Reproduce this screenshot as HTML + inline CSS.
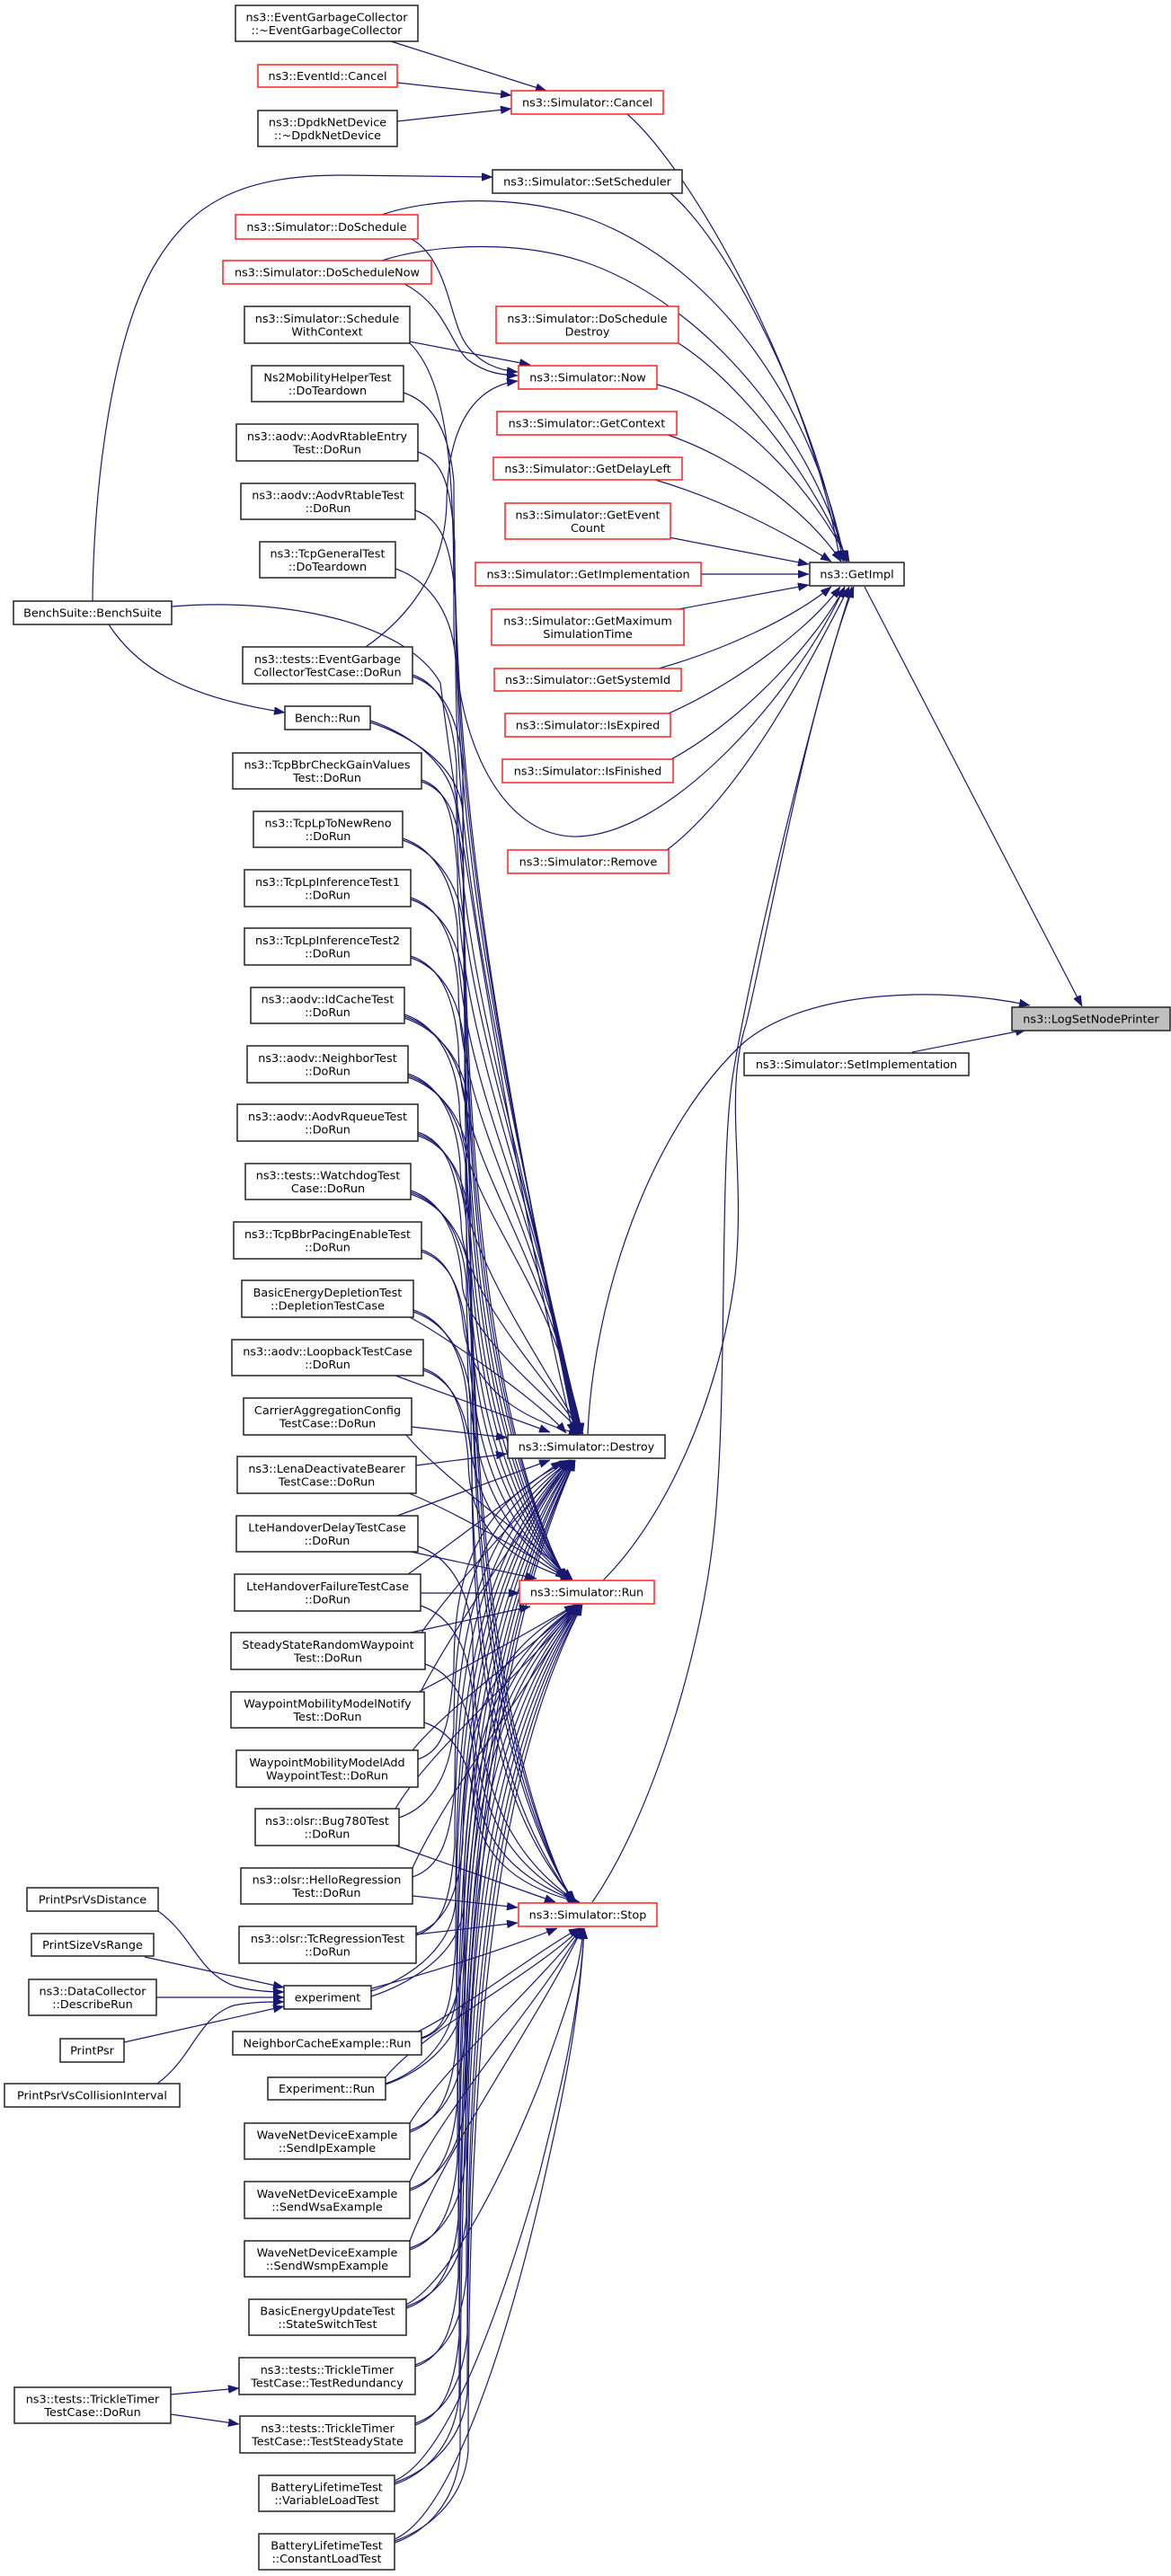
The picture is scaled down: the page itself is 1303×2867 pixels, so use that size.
<!DOCTYPE html>
<html><head><meta charset="utf-8"><style>
html,body{margin:0;padding:0;background:#fff;}
svg{display:block;}
#E path{fill:none;stroke:#191970;stroke-width:1.2;marker-end:url(#a);}
.b rect{fill:#fff;stroke:#222;stroke-width:1.5;}
.r rect{fill:#fff;stroke:#ff2020;stroke-width:1.5;}
text{font-family:"DejaVu Sans","Liberation Sans",sans-serif;font-size:12.8px;fill:#000;text-anchor:middle;}
</style></head><body>
<svg width="1303" height="2867" viewBox="0 0 1303 2867" xmlns="http://www.w3.org/2000/svg">
<defs><marker id="a" markerWidth="12" markerHeight="9" refX="12" refY="4.5" orient="auto" markerUnits="userSpaceOnUse"><path d="M0,0 L12,4.5 L0,9 z" fill="#191970" stroke="#191970" stroke-width="0.5"/></marker></defs>
<g id="E">
<!-- to Cancel -->
<path d="M435,46 L608,101"/>
<path d="M442,92 L569,106"/>
<path d="M442,135 L569,121"/>
<!-- to GetImpl -->
<path d="M698,127 C770,190 900,420 935,625"/>
<path d="M746,215 C810,270 905,450 938,625"/>
<path d="M425,239 C480,220 580,215 660,245 C800,300 905,450 940,625"/>
<path d="M425,290 C480,272 580,265 660,295 C790,345 900,480 942,625"/>
<path d="M731,428 C820,450 900,540 945,625"/>
<path d="M755,382 C830,430 910,540 943,625"/>
<path d="M743,484 C820,510 900,570 936,625"/>
<path d="M729,534 C800,555 870,590 925,625"/>
<path d="M744,598 L900,628"/>
<path d="M780,639 L900,639"/>
<path d="M755,678 L900,651"/>
<path d="M733,744 C800,725 880,690 925,653"/>
<path d="M744,794 C820,760 900,700 935,653"/>
<path d="M747,845 C830,800 910,710 940,653"/>
<path d="M742,946 C830,880 910,720 945,653"/>
<path d="M456,382 C505,430 505,560 505,700 C508,830 560,928 637,931 C740,934 880,780 940,653"/>
<path d="M671,1759 C740,1690 800,1560 818,1420 C830,1300 805,1220 830,1140 C850,1060 900,780 950,653"/>
<path d="M659,2117 C720,2030 780,1850 795,1700 C810,1550 800,1300 815,1200 C830,1100 900,800 948,653"/>
<!-- to Now -->
<path d="M458,266 C500,290 500,360 520,385 C535,405 555,412 576,414"/>
<path d="M450,316 C495,340 500,380 520,400 C540,415 556,417 576,418"/>
<path d="M455,380 L590,406"/>
<path d="M407,720 C450,690 495,640 497,560 C498,470 530,430 576,424"/>
<!-- to LogSetNodePrinter -->
<path d="M654,1596 C660,1450 720,1260 828,1160 C900,1100 1050,1098 1146,1119"/>
<path d="M1015,1171 L1142,1146"/>
<path d="M962,653 L1204,1120"/>
<!-- BenchSuite -->
<path d="M103,669 C104,540 125,370 175,290 C215,225 270,195 380,195 L548,197"/>
<path d="M121,695 C150,740 200,775 317,793"/>
<path d="M191,675 C310,665 450,690 490,760 C520,1000 590,1400 638,1596"/>
<!-- experiment callers -->
<path d="M176,2127 C215,2155 220,2195 260,2210 C280,2216 300,2217 316,2217"/>
<path d="M161,2178 L316,2212"/>
<path d="M174,2223 L316,2223"/>
<path d="M138,2273 L316,2233"/>
<path d="M175,2319 C215,2290 220,2245 260,2232 C280,2228 300,2228 316,2228"/>
<!-- trickle -->
<path d="M190,2665 L266,2658"/>
<path d="M190,2687 L266,2698"/>
<!-- Destroy from above -->
<path d="M449,437 C479,447 500,477 505,537 C505,855 534,1066 640,1596"/>
<path d="M465,503 C495,513 501,543 506,603 C506,901 542,1100 641,1596"/>
<path d="M462,568 C492,578 502,608 507,668 C507,946 549,1132 642,1596"/>
<path d="M440,633 C470,643 502,673 507,733 C507,992 557,1165 643,1596"/>
<path d="M459,751 C489,761 503,791 508,851 C508,1075 570,1224 644,1596"/>
<path d="M412,802 C442,812 503,842 508,902 C508,1110 576,1249 645,1596"/>
<path d="M469,868 C499,878 504,908 509,968 C509,1156 583,1282 646,1596"/>
<path d="M448,933 C478,943 504,973 509,1033 C509,1202 590,1315 646,1596"/>
<path d="M457,999 C487,1009 505,1039 510,1099 C510,1248 597,1348 647,1596"/>
<path d="M457,1064 C487,1074 505,1104 510,1164 C510,1294 604,1380 647,1596"/>
<path d="M450,1129 C480,1139 506,1169 511,1229 C511,1339 611,1413 648,1596"/>
<path d="M454,1195 C484,1205 507,1235 512,1295 C512,1385 588,1491 648,1596"/>
<path d="M465,1260 C495,1270 508,1300 513,1360 C513,1431 589,1513 649,1596"/>
<path d="M457,1325 C487,1335 509,1365 514,1425 C514,1476 589,1536 649,1596"/>
<path d="M469,1391 C499,1401 510,1431 515,1470 C520,1530 560,1575 645,1596"/>
<path d="M456,1466 C500,1490 600,1560 630,1595"/>
<path d="M440,1531 L612,1594"/>
<path d="M458,1588 L564,1600"/>
<path d="M463,1631 L564,1618"/>
<!-- Destroy from below -->
<path d="M442,1687 L612,1625"/>
<path d="M454,1752 C500,1720 590,1650 625,1626"/>
<path d="M469,1817 C509,1759 582,1683 632,1625"/>
<path d="M468,1883 C508,1806 583,1702 633,1625"/>
<path d="M465,1958 C495,1948 500,1918 505,1858 C505,1742 535,1672 634,1625"/>
<path d="M444,2023 C474,2013 500,1983 505,1923 C505,1774 535,1685 634,1625"/>
<path d="M459,2089 C489,2079 501,2049 506,1989 C506,1807 536,1698 635,1625"/>
<path d="M463,2154 C493,2144 501,2114 506,2054 C506,1840 536,1711 635,1625"/>
<path d="M413,2216 C443,2206 502,2176 507,2116 C507,1871 537,1723 636,1625"/>
<path d="M469,2268 C499,2258 502,2228 507,2168 C507,1897 537,1734 636,1625"/>
<path d="M429,2319 C459,2309 503,2279 508,2219 C508,1922 538,1744 637,1625"/>
<path d="M456,2373 C486,2363 503,2333 508,2273 C508,1949 538,1755 637,1625"/>
<path d="M456,2438 C486,2428 504,2398 509,2338 C509,1982 539,1768 638,1625"/>
<path d="M456,2504 C486,2494 504,2464 509,2404 C509,2015 539,1781 638,1625"/>
<path d="M452,2569 C482,2559 505,2529 510,2469 C510,2047 540,1794 639,1625"/>
<path d="M462,2634 C492,2624 505,2594 510,2534 C510,2080 540,1807 639,1625"/>
<path d="M462,2699 C492,2689 506,2659 511,2599 C511,2112 541,1820 640,1625"/>
<path d="M439,2765 C469,2755 506,2725 511,2665 C511,2145 541,1833 640,1625"/>
<path d="M439,2830 C469,2820 507,2790 512,2730 C512,2178 542,1846 640,1625"/>
<!-- Run from above -->
<path d="M459,753 C489,763 510,793 515,853 C515,1306 545,1577 628,1758"/>
<path d="M412,804 C442,814 510,844 515,904 C515,1331 545,1587 629,1758"/>
<path d="M469,870 C499,880 511,910 516,970 C516,1364 546,1600 630,1758"/>
<path d="M448,935 C478,945 511,975 516,1035 C516,1397 546,1613 630,1758"/>
<path d="M457,1001 C487,1011 512,1041 517,1101 C517,1430 547,1627 631,1758"/>
<path d="M457,1066 C487,1076 512,1106 517,1166 C517,1462 547,1640 632,1758"/>
<path d="M450,1131 C480,1141 513,1171 518,1231 C518,1495 548,1653 632,1758"/>
<path d="M454,1197 C484,1207 513,1237 518,1297 C518,1528 548,1666 633,1758"/>
<path d="M465,1262 C495,1272 514,1302 519,1362 C519,1560 549,1679 634,1758"/>
<path d="M457,1327 C487,1337 514,1367 519,1427 C519,1593 549,1692 634,1758"/>
<path d="M469,1393 C499,1403 515,1433 520,1493 C520,1626 550,1705 635,1758"/>
<path d="M460,1458 C490,1468 515,1498 520,1558 C520,1658 550,1718 636,1758"/>
<path d="M471,1523 C501,1533 516,1563 521,1623 C521,1691 551,1731 636,1758"/>
<path d="M452,1597 C492,1645 587,1710 637,1758"/>
<path d="M455,1662 C500,1680 590,1730 630,1757"/>
<path d="M457,1727 L597,1757"/>
<path d="M468,1773 L578,1773"/>
<!-- Run from below -->
<path d="M457,1817 L590,1788"/>
<path d="M466,1883 C510,1860 600,1810 640,1786"/>
<path d="M459,1948 C499,1899 591,1835 641,1786"/>
<path d="M440,2013 C480,1945 592,1854 642,1786"/>
<path d="M459,2079 C499,1991 592,1874 642,1786"/>
<path d="M463,2152 C493,2142 510,2112 515,2052 C515,1919 545,1839 643,1786"/>
<path d="M413,2222 C443,2212 511,2182 516,2122 C516,1954 546,1853 643,1786"/>
<path d="M469,2269 C499,2259 511,2229 516,2169 C516,1978 546,1863 644,1786"/>
<path d="M429,2320 C459,2310 512,2280 517,2220 C517,2003 547,1873 644,1786"/>
<path d="M456,2371 C486,2361 512,2331 517,2271 C517,2029 547,1883 645,1786"/>
<path d="M456,2436 C486,2426 513,2396 518,2336 C518,2061 548,1896 645,1786"/>
<path d="M456,2502 C486,2492 513,2462 518,2402 C518,2094 548,1909 646,1786"/>
<path d="M452,2567 C482,2557 514,2527 519,2467 C519,2127 549,1922 646,1786"/>
<path d="M462,2632 C492,2622 514,2592 519,2532 C519,2159 549,1935 647,1786"/>
<path d="M462,2697 C492,2687 515,2657 520,2597 C520,2192 550,1948 647,1786"/>
<path d="M439,2763 C469,2753 515,2723 520,2663 C520,2225 550,1961 648,1786"/>
<path d="M439,2828 C469,2818 516,2788 521,2728 C521,2257 551,1974 648,1786"/>
<!-- Stop from above -->
<path d="M450,1133 C480,1143 517,1173 522,1233 C522,1675 552,1940 636,2117"/>
<path d="M454,1199 C484,1209 518,1239 523,1299 C523,1708 553,1953 637,2117"/>
<path d="M465,1264 C495,1274 518,1304 523,1364 C523,1740 553,1966 638,2117"/>
<path d="M457,1329 C487,1339 519,1369 524,1429 C524,1773 554,1979 639,2117"/>
<path d="M460,1460 C490,1470 519,1500 524,1560 C524,1838 554,2006 640,2117"/>
<path d="M471,1525 C501,1535 520,1565 525,1625 C525,1871 555,2019 641,2117"/>
<path d="M465,1721 C495,1731 521,1761 526,1821 C526,1969 556,2058 642,2117"/>
<path d="M468,1787 C498,1797 521,1827 526,1887 C526,2002 556,2071 643,2117"/>
<path d="M473,1852 C503,1862 522,1892 527,1952 C527,2035 557,2084 644,2117"/>
<path d="M472,1917 C502,1927 522,1957 527,2000 C530,2060 570,2100 645,2117"/>
<path d="M440,2054 L618,2117"/>
<path d="M459,2110 L576,2123"/>
<path d="M463,2153 L576,2140"/>
<!-- Stop from below -->
<path d="M414,2213 C480,2195 560,2170 620,2146"/>
<path d="M465,2261 C510,2240 600,2170 645,2146"/>
<path d="M429,2312 C469,2262 596,2196 646,2146"/>
<path d="M456,2363 C496,2298 597,2211 647,2146"/>
<path d="M456,2428 C496,2343 598,2231 648,2146"/>
<path d="M456,2494 C496,2390 598,2250 648,2146"/>
<path d="M452,2565 C500,2540 560,2420 600,2320 C625,2250 645,2200 649,2146"/>
<path d="M439,2761 C500,2735 560,2560 600,2420 C625,2320 645,2240 650,2146"/>
<path d="M439,2826 C500,2800 560,2620 600,2450 C625,2340 645,2250 650,2146"/>
</g>

<!-- far left nodes -->
<g class="b"><rect x="15" y="669" width="176" height="26"/><text x="103" y="686.5">BenchSuite::BenchSuite</text></g>
<g class="b"><rect x="30" y="2101" width="146" height="26"/><text x="103" y="2118.5">PrintPsrVsDistance</text></g>
<g class="b"><rect x="35" y="2152" width="136" height="25"/><text x="103" y="2169">PrintSizeVsRange</text></g>
<g class="b"><rect x="32" y="2203" width="142" height="40"/><text x="103" y="2220.5">ns3::DataCollector</text><text x="103" y="2235">::DescribeRun</text></g>
<g class="b"><rect x="67" y="2269" width="71" height="26"/><text x="102.5" y="2286.5">PrintPsr</text></g>
<g class="b"><rect x="5" y="2319" width="195" height="26"/><text x="102.5" y="2336.5">PrintPsrVsCollisionInterval</text></g>
<g class="b"><rect x="16" y="2657" width="174" height="40"/><text x="103" y="2674.5">ns3::tests::TrickleTimer</text><text x="103" y="2689">TestCase::DoRun</text></g>

<!-- left column -->
<g class="b"><rect x="262" y="6" width="203" height="40"/><text x="363.5" y="23.5">ns3::EventGarbageCollector</text><text x="363.5" y="38">::~EventGarbageCollector</text></g>
<g class="r"><rect x="287" y="72" width="155" height="25"/><text x="364.5" y="89">ns3::EventId::Cancel</text></g>
<g class="b"><rect x="287" y="123" width="155" height="40"/><text x="364.5" y="140.5">ns3::DpdkNetDevice</text><text x="364.5" y="155">::~DpdkNetDevice</text></g>
<g class="r"><rect x="262" y="239" width="203" height="27"/><text x="363.5" y="257">ns3::Simulator::DoSchedule</text></g>
<g class="r"><rect x="248" y="290" width="232" height="26"/><text x="364" y="307.5">ns3::Simulator::DoScheduleNow</text></g>
<g class="b"><rect x="272" y="341" width="184" height="41"/><text x="364" y="359">ns3::Simulator::Schedule</text><text x="364" y="373.5">WithContext</text></g>
<g class="b"><rect x="280" y="407" width="169" height="40"/><text x="364.5" y="424.5">Ns2MobilityHelperTest</text><text x="364.5" y="439">::DoTeardown</text></g>
<g class="b"><rect x="263" y="472" width="202" height="41"/><text x="364" y="490">ns3::aodv::AodvRtableEntry</text><text x="364" y="504.5">Test::DoRun</text></g>
<g class="b"><rect x="268" y="538" width="194" height="40"/><text x="365" y="555.5">ns3::aodv::AodvRtableTest</text><text x="365" y="570">::DoRun</text></g>
<g class="b"><rect x="289" y="603" width="151" height="40"/><text x="364.5" y="620.5">ns3::TcpGeneralTest</text><text x="364.5" y="635">::DoTeardown</text></g>
<g class="b"><rect x="270" y="720" width="189" height="41"/><text x="364.5" y="738">ns3::tests::EventGarbage</text><text x="364.5" y="752.5">CollectorTestCase::DoRun</text></g>
<g class="b"><rect x="317" y="786" width="95" height="26"/><text x="364.5" y="803.5">Bench::Run</text></g>
<g class="b"><rect x="259" y="838" width="210" height="40"/><text x="364" y="855.5">ns3::TcpBbrCheckGainValues</text><text x="364" y="870">Test::DoRun</text></g>
<g class="b"><rect x="282" y="903" width="166" height="40"/><text x="365" y="920.5">ns3::TcpLpToNewReno</text><text x="365" y="935">::DoRun</text></g>
<g class="b"><rect x="272" y="968" width="185" height="41"/><text x="364.5" y="986">ns3::TcpLpInferenceTest1</text><text x="364.5" y="1000.5">::DoRun</text></g>
<g class="b"><rect x="272" y="1033" width="185" height="41"/><text x="364.5" y="1051">ns3::TcpLpInferenceTest2</text><text x="364.5" y="1065.5">::DoRun</text></g>
<g class="b"><rect x="279" y="1099" width="171" height="40"/><text x="364.5" y="1116.5">ns3::aodv::IdCacheTest</text><text x="364.5" y="1131">::DoRun</text></g>
<g class="b"><rect x="275" y="1164" width="179" height="41"/><text x="364.5" y="1182">ns3::aodv::NeighborTest</text><text x="364.5" y="1196.5">::DoRun</text></g>
<g class="b"><rect x="264" y="1229" width="201" height="41"/><text x="364.5" y="1247">ns3::aodv::AodvRqueueTest</text><text x="364.5" y="1261.5">::DoRun</text></g>
<g class="b"><rect x="273" y="1295" width="184" height="40"/><text x="365" y="1312.5">ns3::tests::WatchdogTest</text><text x="365" y="1327">Case::DoRun</text></g>
<g class="b"><rect x="260" y="1360" width="209" height="41"/><text x="364.5" y="1378">ns3::TcpBbrPacingEnableTest</text><text x="364.5" y="1392.5">::DoRun</text></g>
<g class="b"><rect x="269" y="1425" width="191" height="41"/><text x="364.5" y="1443">BasicEnergyDepletionTest</text><text x="364.5" y="1457.5">::DepletionTestCase</text></g>
<g class="b"><rect x="258" y="1491" width="213" height="40"/><text x="364.5" y="1508.5">ns3::aodv::LoopbackTestCase</text><text x="364.5" y="1523">::DoRun</text></g>
<g class="b"><rect x="271" y="1556" width="187" height="41"/><text x="364.5" y="1574">CarrierAggregationConfig</text><text x="364.5" y="1588.5">TestCase::DoRun</text></g>
<g class="b"><rect x="264" y="1621" width="199" height="41"/><text x="363.5" y="1639">ns3::LenaDeactivateBearer</text><text x="363.5" y="1653.5">TestCase::DoRun</text></g>
<g class="b"><rect x="263" y="1687" width="202" height="40"/><text x="364" y="1704.5">LteHandoverDelayTestCase</text><text x="364" y="1719">::DoRun</text></g>
<g class="b"><rect x="261" y="1752" width="207" height="41"/><text x="364.5" y="1770">LteHandoverFailureTestCase</text><text x="364.5" y="1784.5">::DoRun</text></g>
<g class="b"><rect x="257" y="1817" width="216" height="41"/><text x="365" y="1835">SteadyStateRandomWaypoint</text><text x="365" y="1849.5">Test::DoRun</text></g>
<g class="b"><rect x="257" y="1883" width="215" height="40"/><text x="364.5" y="1900.5">WaypointMobilityModelNotify</text><text x="364.5" y="1915">Test::DoRun</text></g>
<g class="b"><rect x="263" y="1948" width="202" height="41"/><text x="364" y="1966">WaypointMobilityModelAdd</text><text x="364" y="1980.5">WaypointTest::DoRun</text></g>
<g class="b"><rect x="284" y="2013" width="160" height="41"/><text x="364" y="2031">ns3::olsr::Bug780Test</text><text x="364" y="2045.5">::DoRun</text></g>
<g class="b"><rect x="268" y="2079" width="191" height="40"/><text x="363.5" y="2096.5">ns3::olsr::HelloRegression</text><text x="363.5" y="2111">Test::DoRun</text></g>
<g class="b"><rect x="266" y="2144" width="197" height="41"/><text x="364.5" y="2162">ns3::olsr::TcRegressionTest</text><text x="364.5" y="2176.5">::DoRun</text></g>
<g class="b"><rect x="316" y="2210" width="97" height="26"/><text x="364.5" y="2227.5">experiment</text></g>
<g class="b"><rect x="259" y="2261" width="210" height="26"/><text x="364" y="2278.5">NeighborCacheExample::Run</text></g>
<g class="b"><rect x="298" y="2312" width="131" height="25"/><text x="363.5" y="2329">Experiment::Run</text></g>
<g class="b"><rect x="272" y="2363" width="184" height="40"/><text x="364" y="2380.5">WaveNetDeviceExample</text><text x="364" y="2395">::SendIpExample</text></g>
<g class="b"><rect x="272" y="2428" width="184" height="41"/><text x="364" y="2446">WaveNetDeviceExample</text><text x="364" y="2460.5">::SendWsaExample</text></g>
<g class="b"><rect x="272" y="2494" width="184" height="40"/><text x="364" y="2511.5">WaveNetDeviceExample</text><text x="364" y="2526">::SendWsmpExample</text></g>
<g class="b"><rect x="277" y="2559" width="175" height="40"/><text x="364.5" y="2576.5">BasicEnergyUpdateTest</text><text x="364.5" y="2591">::StateSwitchTest</text></g>
<g class="b"><rect x="266" y="2624" width="196" height="41"/><text x="364" y="2642">ns3::tests::TrickleTimer</text><text x="364" y="2656.5">TestCase::TestRedundancy</text></g>
<g class="b"><rect x="267" y="2689" width="195" height="41"/><text x="364.5" y="2707">ns3::tests::TrickleTimer</text><text x="364.5" y="2721.5">TestCase::TestSteadyState</text></g>
<g class="b"><rect x="288" y="2755" width="151" height="40"/><text x="363.5" y="2772.5">BatteryLifetimeTest</text><text x="363.5" y="2787">::VariableLoadTest</text></g>
<g class="b"><rect x="288" y="2820" width="151" height="40"/><text x="363.5" y="2837.5">BatteryLifetimeTest</text><text x="363.5" y="2852">::ConstantLoadTest</text></g>

<!-- middle column -->
<g class="r"><rect x="569" y="101" width="169" height="26"/><text x="653.5" y="118.5">ns3::Simulator::Cancel</text></g>
<g class="b"><rect x="548" y="189" width="211" height="26"/><text x="653.5" y="206.5">ns3::Simulator::SetScheduler</text></g>
<g class="r"><rect x="552" y="341" width="203" height="41"/><text x="653.5" y="359">ns3::Simulator::DoSchedule</text><text x="653.5" y="373.5">Destroy</text></g>
<g class="r"><rect x="577" y="407" width="154" height="26"/><text x="654" y="424.5">ns3::Simulator::Now</text></g>
<g class="r"><rect x="553" y="458" width="200" height="26"/><text x="653" y="475.5">ns3::Simulator::GetContext</text></g>
<g class="r"><rect x="549" y="509" width="210" height="25"/><text x="654" y="526">ns3::Simulator::GetDelayLeft</text></g>
<g class="r"><rect x="562" y="560" width="184" height="40"/><text x="654" y="577.5">ns3::Simulator::GetEvent</text><text x="654" y="592">Count</text></g>
<g class="r"><rect x="529" y="626" width="251" height="26"/><text x="654.5" y="643.5">ns3::Simulator::GetImplementation</text></g>
<g class="r"><rect x="547" y="678" width="214" height="40"/><text x="654" y="695.5">ns3::Simulator::GetMaximum</text><text x="654" y="710">SimulationTime</text></g>
<g class="r"><rect x="550" y="744" width="208" height="25"/><text x="654" y="761">ns3::Simulator::GetSystemId</text></g>
<g class="r"><rect x="562" y="794" width="184" height="26"/><text x="654" y="811.5">ns3::Simulator::IsExpired</text></g>
<g class="r"><rect x="559" y="845" width="190" height="26"/><text x="654" y="862.5">ns3::Simulator::IsFinished</text></g>
<g class="r"><rect x="565" y="946" width="179" height="26"/><text x="654.5" y="963.5">ns3::Simulator::Remove</text></g>
<g class="b"><rect x="828" y="1172" width="250" height="25"/><text x="953" y="1189">ns3::Simulator::SetImplementation</text></g>
<g class="b"><rect x="565" y="1597" width="175" height="26"/><text x="652.5" y="1614.5">ns3::Simulator::Destroy</text></g>
<g class="r"><rect x="578" y="1759" width="150" height="26"/><text x="653" y="1776.5">ns3::Simulator::Run</text></g>
<g class="r"><rect x="577" y="2118" width="154" height="26"/><text x="654" y="2135.5">ns3::Simulator::Stop</text></g>

<!-- right -->
<g class="b"><rect x="901" y="626" width="105" height="26"/><text x="953.5" y="643.5">ns3::GetImpl</text></g>
<g class="b"><rect x="1126" y="1121" width="176" height="26" style="fill:#bfbfbf"/><text x="1214" y="1138.5">ns3::LogSetNodePrinter</text></g>
</svg>
</body></html>
